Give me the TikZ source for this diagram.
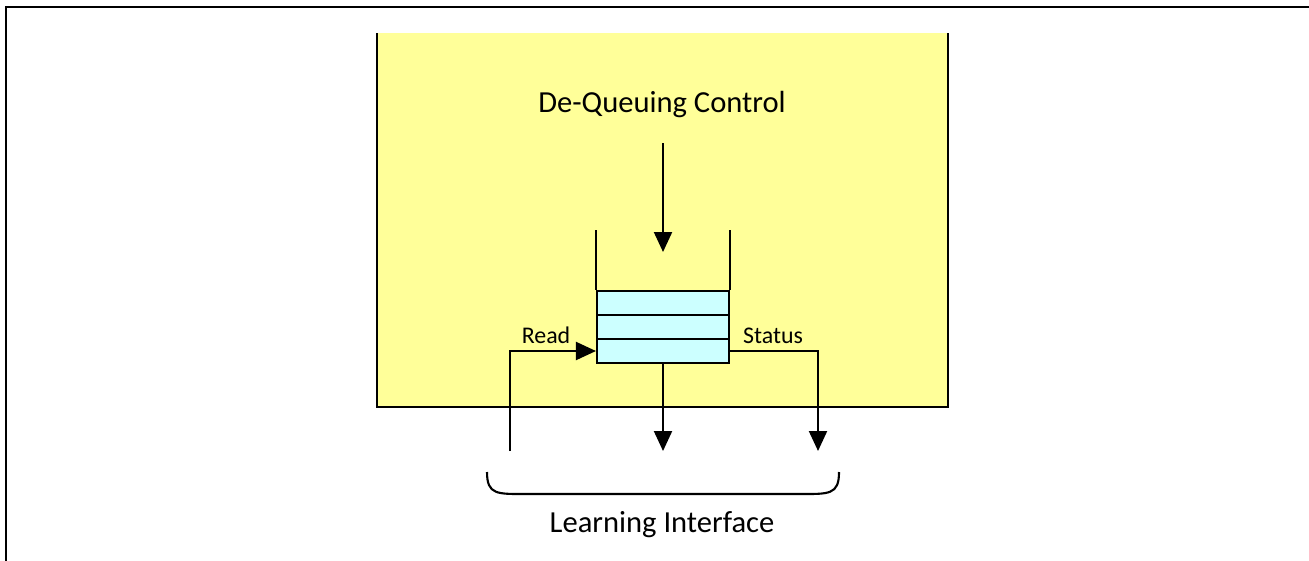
\documentclass[tikz,border=0pt]{standalone}
\usepackage{fontspec}
\setmainfont{Carlito}
\usepackage{tikz}
\usetikzlibrary{positioning,arrows.meta}
\definecolor{panel}{RGB}{255,255,153}
\definecolor{slotfill}{RGB}{204,255,255}

\begin{document}
\begin{tikzpicture}[line width=0.6pt,
    every node/.style={font=\fontsize{8.7}{10}\selectfont},
    small/.style={font=\fontsize{6.8}{8}\selectfont},
    slotbox/.style={draw,fill=slotfill,minimum width=1.32cm,minimum height=0.24cm,inner sep=0pt},
    arr/.style={-{Triangle[length=2.0mm,width=1.8mm]}}]
  \useasboundingbox (0,0) rectangle (13.09,-5.60);
  % outer frame
  \draw[line width=0.85pt] (0.06,-5.70) -- (0.06,-0.07) -- (13.20,-0.07);
  % controller panel, open at top
  \fill[panel] (3.77,-0.33) rectangle (9.48,-4.07);
  \draw (3.77,-0.33) -- (3.77,-4.07) -- (9.48,-4.07) -- (9.48,-0.33);
  \node[anchor=base] (ctrl) at (6.62,-1.12) {De-Queuing Control};
  % queue
  \node[slotbox] (slot1) at (6.63,-3.03) {};
  \node[slotbox] (slot2) at (6.63,-3.27) {};
  \node[slotbox] (slot3) at (6.63,-3.51) {};
  \draw (slot1.north west) -- ++(0,0.60);
  \draw (slot1.north east) -- ++(0,0.60);
  \coordinate (deq) at (6.63,-1.43);
  \draw[arr] (deq) -- (slot1.north |- 0,-2.52);
  % interface signals
  \coordinate (readin) at (5.10,-4.51);
  \coordinate (statout) at (8.18,-4.51);
  \coordinate (dataout) at (6.63,-4.51);
  \draw[arr] (readin) |- (slot3.west);
  \draw[arr] (slot3.east) -| (statout);
  \draw[arr] (slot3.south) -- (dataout);
  \node[small,anchor=base] (read) at (5.46,-3.43) {Read};
  \node[small,anchor=base] (status) at (7.73,-3.43) {Status};
  % brace
  \draw (4.87,-4.72) .. controls (4.87,-4.95) and (4.97,-4.94) .. (5.27,-4.94)
        -- (7.99,-4.94) .. controls (8.29,-4.94) and (8.39,-4.95) .. (8.39,-4.72);
  \node[anchor=base] (li) at (6.62,-5.32) {Learning Interface};
\end{tikzpicture}
\end{document}
